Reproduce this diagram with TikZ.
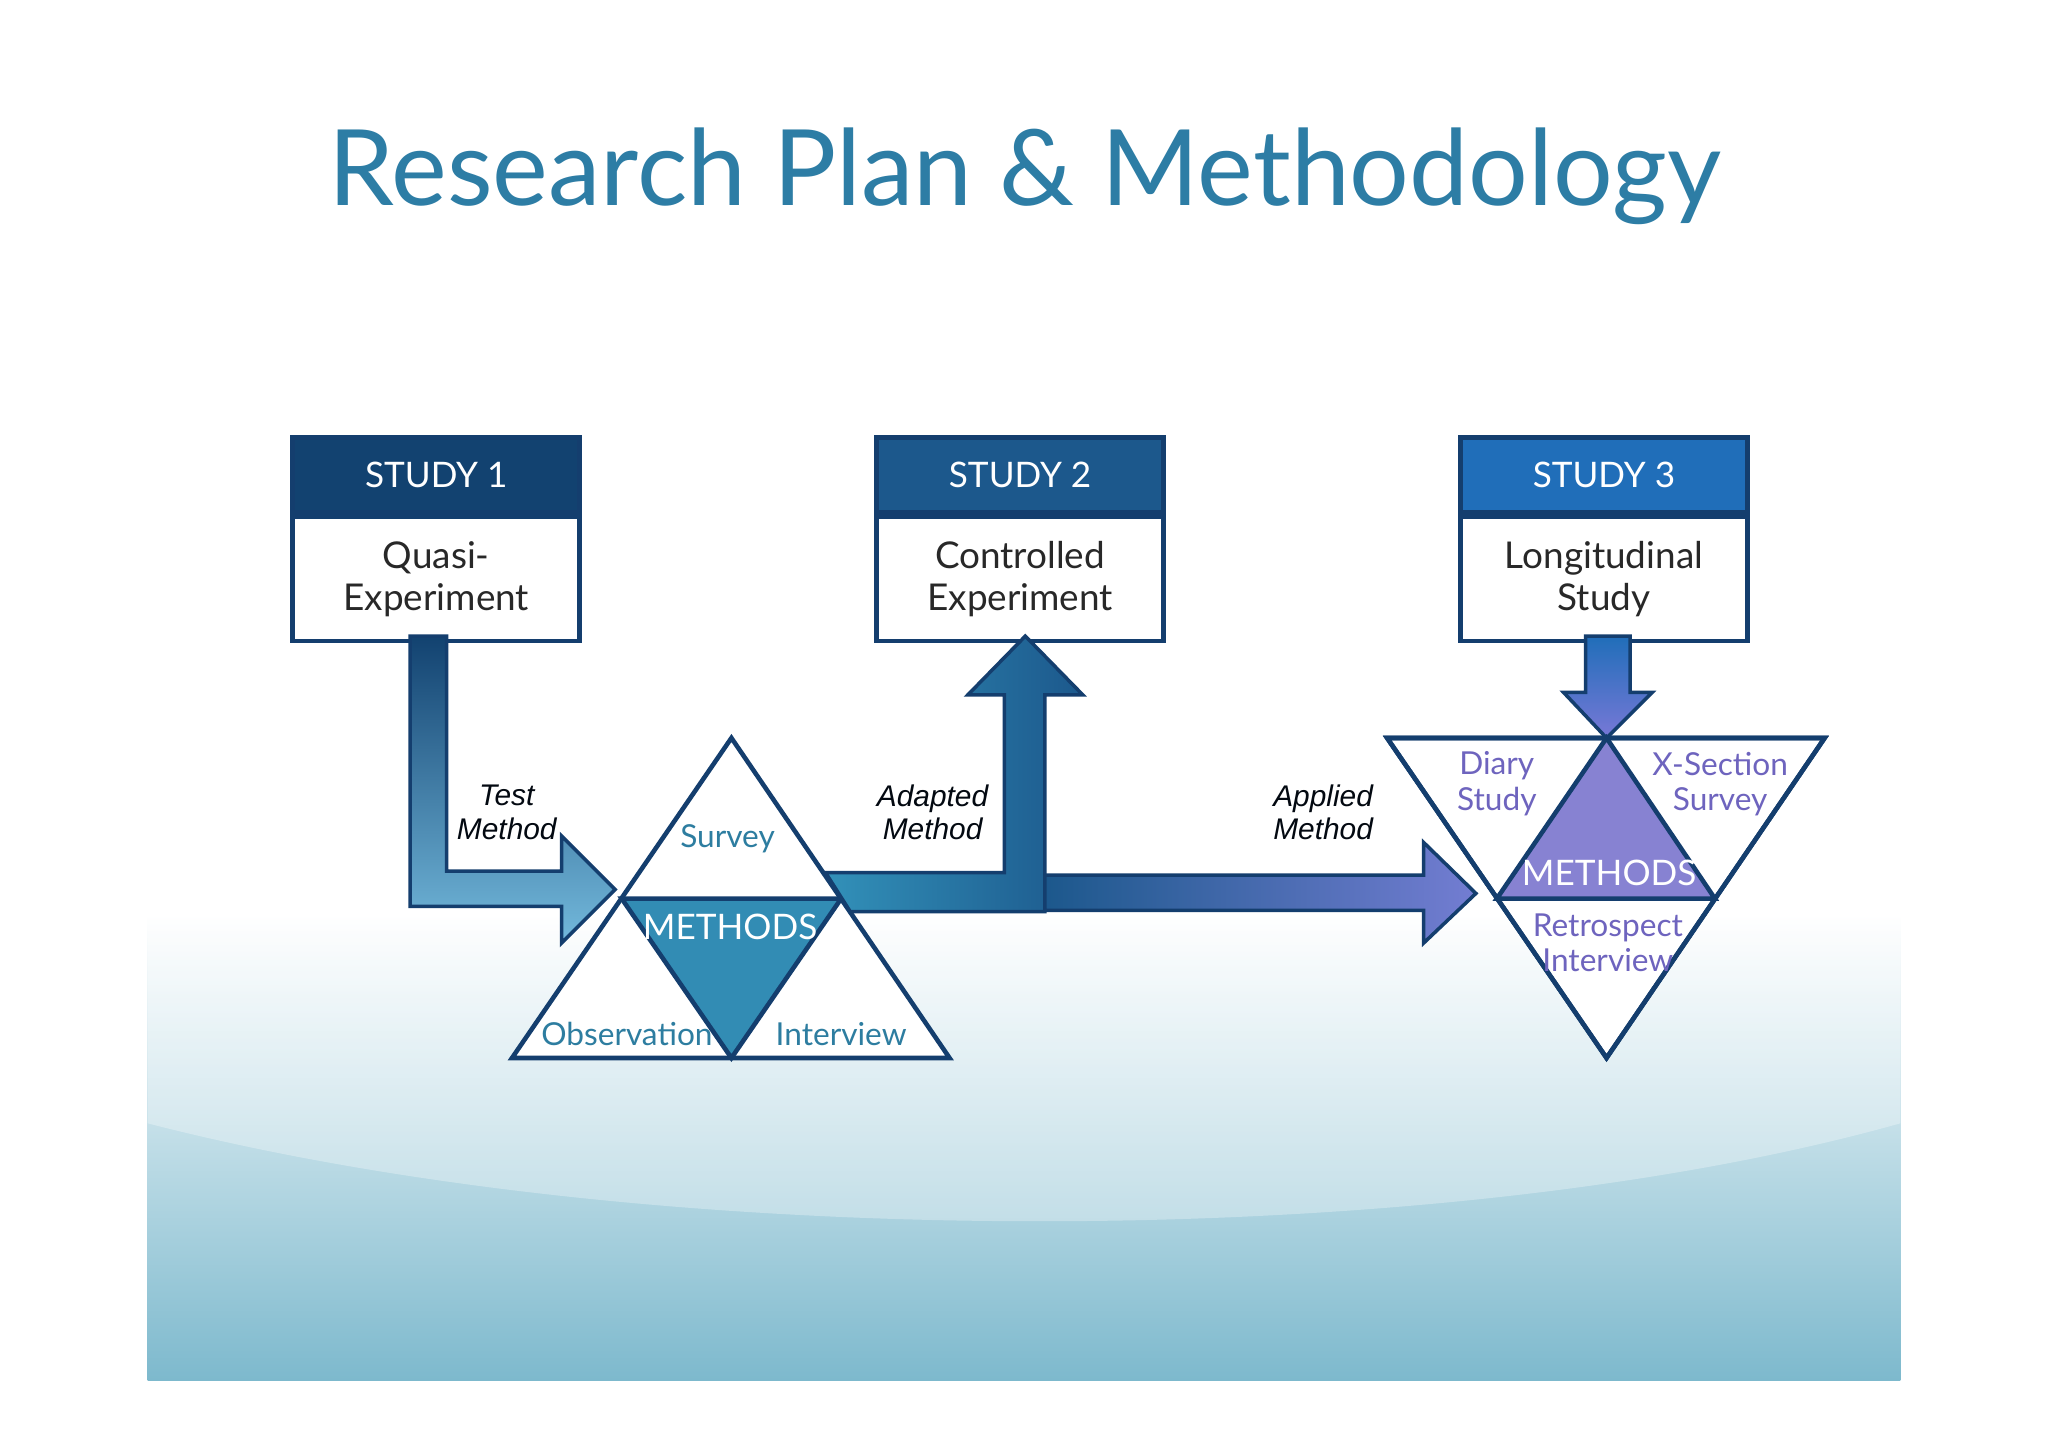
\documentclass[tikz,border=0pt]{standalone}
\usepackage{fontspec}
\setmainfont{Lato}
\newfontfamily\lab{Liberation Sans}
\begin{document}
\begin{tikzpicture}[x=0.013061cm,y=-0.013061cm,line join=miter]
\definecolor{navy}{RGB}{20,62,110}
\definecolor{titleblue}{RGB}{45,125,165}
\definecolor{teal}{RGB}{125,185,205}
\definecolor{h1}{RGB}{18,66,112}
\definecolor{h2}{RGB}{28,88,140}
\definecolor{h3}{RGB}{32,110,185}
\definecolor{mteal}{RGB}{50,140,180}
\definecolor{mpurp}{RGB}{135,130,210}
\definecolor{tpurp}{RGB}{110,100,190}
\definecolor{ttext}{RGB}{45,125,160}
\definecolor{txt}{RGB}{40,40,40}
\tikzset{
 hdr/.style={draw=navy,line width=1.4pt,minimum width=220*0.013061cm,minimum height=57*0.013061cm,text=white,font=\fontsize{10}{12}\selectfont},
 body/.style={draw=navy,fill=white,line width=1.4pt,minimum width=220*0.013061cm,minimum height=95*0.013061cm,text=txt,align=center,font=\fontsize{10.5}{12}\selectfont,anchor=north},
 tri/.style={draw=navy,line width=1.3pt,fill=white},
 lbl/.style={font=\lab\itshape\fontsize{8.5}{9.5}\selectfont,align=center,text=black!85!navy},
 arr/.style={draw=navy,line width=1pt}
}
\useasboundingbox (0,0) rectangle (1568,1108);
\fill[white] (0,0) rectangle (1568,1108);
\fill[white] (113,52) rectangle (1455,1057);
\shade[top color=white,bottom color=teal] (113,700) rectangle (1455,1057);
\fill[white,opacity=0.3] (113,860) .. controls (500,960) and (1100,960) .. (1455,860) -- (1455,700) -- (113,700) -- cycle;
\node (title) at (785,135) {\color{titleblue}\fontsize{30}{34}\selectfont Research Plan \& Methodology};
% boxes
\node[hdr,fill=h1] (h1) at (334,363.5) {STUDY 1};
\node[body] (b1) at (h1.south) {Quasi-\\Experiment};
\node[hdr,fill=h2] (h2) at (781,363.5) {STUDY 2};
\node[body] (b2) at (h2.south) {Controlled\\Experiment};
\node[hdr,fill=h3] (h3) at (1228,363.5) {STUDY 3};
\node[body] (b3) at (h3.south) {Longitudinal\\Study};
% arrow 1
\shadedraw[arr,top color=h1,bottom color={rgb,255:red,115;green,185;blue,220}] (314,487) -- (342,487) -- (342,667) -- (430,667) -- (430,640) -- (471,681) -- (430,722) -- (430,694) -- (314,694) -- cycle;
% triangle 1
\draw[tri] (560,565) -- (727,810) -- (392,810) -- cycle;
\fill[mteal,draw=navy,line width=1.3pt] (476,688) -- (644,688) -- (560,810) -- cycle;
% arrow 2 up
\shadedraw[arr,left color={rgb,255:red,50;green,145;blue,185},right color=h2] (632,668) -- (769,668) -- (769,532) -- (741,532) -- (785,487) -- (829,532) -- (800,532) -- (800,698) -- (651,698) -- cycle;
% arrow 2 right
\shadedraw[arr,left color=h2,right color={rgb,255:red,115;green,125;blue,210}] (800,670) -- (1090,670) -- (1090,645) -- (1130,684) -- (1090,722) -- (1090,697) -- (800,697) -- cycle;
% arrow 3
\shadedraw[arr,top color=h3,bottom color={rgb,255:red,120;green,120;blue,215}] (1214,487) -- (1248,487) -- (1248,530) -- (1265,530) -- (1230,565) -- (1197,530) -- (1214,530) -- cycle;
% triangle 3
\draw[tri] (1062,565) -- (1397,565) -- (1230,810) -- cycle;
\fill[mpurp,draw=navy,line width=1.3pt] (1230,565) -- (1313,688) -- (1146,688) -- cycle;
\draw[tri,fill=none] (1062,565) -- (1397,565) -- (1230,810) -- cycle;
% texts
\begin{scope}[every node/.style={font=\fontsize{9}{10}\selectfont,align=center}]
\node[text=ttext] (sv) at (557,642) {Survey};
\node[text=ttext] (ob) at (480,792) {Observation};
\node[text=ttext] (iv) at (644,792) {Interview};
\node[text=white,font=\fontsize{10}{12}\selectfont] (m1) at (559,710) {METHODS};
\node[text=tpurp] (ds) at (1146,600) {Diary\\Study};
\node[text=tpurp] (xs) at (1317,600) {X-Section\\Survey};
\node[text=white,font=\fontsize{10}{12}\selectfont] (m3) at (1232,668) {METHODS};
\node[text=tpurp] (ri) at (1231,722) {Retrospect\\Interview};
\end{scope}
\node[lbl] (l1) at (388,622) {Test\\Method};
\node[lbl] (l2) at (714,622) {Adapted\\Method};
\node[lbl] (l3) at (1013,622) {Applied\\Method};
\end{tikzpicture}
\end{document}
